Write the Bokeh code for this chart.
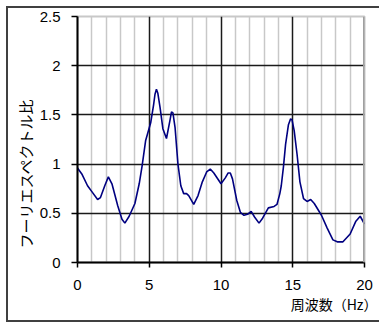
from bokeh.plotting import figure
from bokeh.models import FixedTicker, Range1d, Span, Title
from bokeh.embed import file_html
from bokeh.resources import INLINE

# ---- data ----
freq = [0.0, 0.3, 0.7, 1.0, 1.4, 1.6, 1.9, 2.15, 2.4, 2.8, 3.1, 3.3, 3.6, 4.0, 4.3,
        4.5, 4.75, 5.1, 5.3, 5.4, 5.5, 5.6, 5.75, 5.95, 6.2, 6.45, 6.55, 6.65, 6.8,
        7.0, 7.2, 7.4, 7.6, 7.75, 8.1, 8.4, 8.7, 9.0, 9.25, 9.5, 10.0, 10.3, 10.5,
        10.65, 10.8, 11.1, 11.35, 11.6, 11.85, 12.1, 12.35, 12.65, 12.9, 13.3, 13.7,
        13.9, 14.1, 14.2, 14.35, 14.5, 14.7, 14.85, 14.95, 15.1, 15.3, 15.5, 15.75,
        16.0, 16.25, 16.5, 17.0, 17.4, 17.8, 18.1, 18.5, 19.0, 19.4, 19.7, 20.0]
ratio = [0.96, 0.90, 0.78, 0.72, 0.64, 0.66, 0.78, 0.87, 0.80, 0.58, 0.44, 0.40, 0.47,
         0.60, 0.80, 0.98, 1.24, 1.42, 1.60, 1.71, 1.76, 1.72, 1.58, 1.36, 1.26, 1.45,
         1.53, 1.52, 1.37, 1.00, 0.78, 0.70, 0.70, 0.68, 0.59, 0.68, 0.82, 0.92, 0.95,
         0.91, 0.80, 0.86, 0.91, 0.91, 0.85, 0.63, 0.51, 0.48, 0.49, 0.52, 0.46, 0.40,
         0.45, 0.555, 0.57, 0.59, 0.70, 0.78, 0.97, 1.20, 1.40, 1.46, 1.45, 1.34, 1.10,
         0.82, 0.65, 0.62, 0.64, 0.60, 0.48, 0.35, 0.23, 0.21, 0.21, 0.29, 0.42, 0.47,
         0.39]

x_ticks = [0, 5, 10, 15, 20]
x_minor = [1, 2, 3, 4, 6, 7, 8, 9, 11, 12, 13, 14, 16, 17, 18, 19]
y_ticks = [0, 0.5, 1, 1.5, 2, 2.5]
x_title = "周波数（Hz）"
y_title = "フーリエスペクトル比"
X_MIN, X_MAX = 0, 20
Y_MIN, Y_MAX = 0, 2.5

p = figure(width=371, height=312, output_backend="svg", toolbar_location=None,
           x_range=Range1d(X_MIN, X_MAX), y_range=Range1d(Y_MIN, Y_MAX),
           min_border_left=69, min_border_right=15, min_border_top=8,
           min_border_bottom=58,
           styles={"outline": "2px solid #404040", "margin-left": "8px",
                   "margin-top": "8px"})
p.background_fill_color = "white"
p.border_fill_color = "white"
p.outline_line_color = "#c8c8c8"
p.outline_line_width = 2

# axes
for ax in (p.xaxis[0], p.yaxis[0]):
    ax.axis_line_color = "black"
    ax.axis_line_width = 2
    ax.major_tick_line_color = "black"
    ax.major_tick_line_width = 1.5
    ax.major_tick_in = 0
    ax.minor_tick_line_color = None
    ax.major_label_text_font = "Liberation Sans"
    ax.major_label_text_font_size = "15px"
    ax.major_label_text_color = "black"

p.xaxis.ticker = FixedTicker(ticks=x_ticks)
p.yaxis.ticker = FixedTicker(ticks=y_ticks)
p.xaxis.major_tick_out = 5
p.yaxis.major_tick_out = 6
p.xaxis.major_label_standoff = 12
p.yaxis.major_label_standoff = 11
p.xaxis.major_label_overrides = {t: str(t) for t in x_ticks}
p.yaxis.major_label_overrides = {t: ("%g" % t) for t in y_ticks}

# grids
p.xgrid.ticker = FixedTicker(ticks=[t for t in x_ticks if X_MIN < t < X_MAX],
                             minor_ticks=x_minor)
p.xgrid.grid_line_color = "#1a1a1a"
p.xgrid.grid_line_width = 1.5
p.xgrid.minor_grid_line_color = "#c8c8c8"
p.xgrid.minor_grid_line_width = 1.5
p.ygrid.ticker = FixedTicker(ticks=[t for t in y_ticks if Y_MIN < t < Y_MAX])
p.ygrid.grid_line_color = "#1a1a1a"
p.ygrid.grid_line_width = 1.5

# right frame edge (gray shadow)
p.add_layout(Span(location=X_MAX, dimension="height", line_color="#a0a0a0", line_width=3))

# curve
p.line(freq, ratio, line_color="#000080", line_width=1.6)

# titles
p.add_layout(Title(text=y_title, align="left", offset=14, vertical_align="middle",
                   text_font="Noto Sans CJK JP", text_font_size="15px",
                   text_font_style="normal", text_color="black", standoff=0), "left")
p.add_layout(Title(text=x_title, align="right", offset=-13, vertical_align="middle",
                   text_font="Noto Sans CJK JP", text_font_size="14px",
                   text_font_style="normal", text_color="black", standoff=0), "below")

open("out.html", "w").write(file_html(p, INLINE))
